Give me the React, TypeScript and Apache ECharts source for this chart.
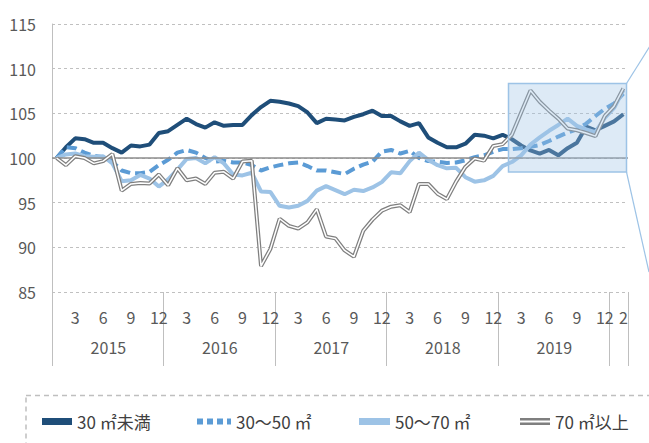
import React, { useEffect, useRef } from "react";
import * as echarts from "echarts";

// ---- data ----
const years = [2015, 2016, 2017, 2018, 2019, 2020];
const monthsPerYear = [12, 12, 12, 12, 12, 2];
const categories: string[] = [];
years.forEach((y, yi) => {
  for (let m = 1; m <= monthsPerYear[yi]; m++) categories.push(`${y}-${m}`);
});
const monthTickLabels = [3, 6, 9, 12];
const yearLabelMonth = 7;

const under30 = [
  100.0, 101.2, 102.2, 102.1, 101.7, 101.7, 101.1, 100.6, 101.4, 101.3, 101.5, 102.8,
  103.0, 103.7, 104.4, 103.8, 103.4, 104.0, 103.6, 103.7, 103.7, 104.8, 105.7, 106.4,
  106.3, 106.1, 105.8, 105.1, 103.9, 104.4, 104.3, 104.2, 104.6, 104.9, 105.3, 104.7,
  104.7, 104.1, 103.6, 103.9, 102.3, 101.7, 101.2, 101.2, 101.6, 102.6, 102.5, 102.2,
  102.6, 102.1, 101.4, 100.85, 100.5, 100.9, 100.3, 101.1, 101.7, 103.5, 103.1, 103.6,
  104.1, 104.9,
];
const from30to50 = [
  100.0, 101.2, 101.1, 100.6, 100.25, 100.1, 99.6, 98.6, 98.3, 98.3, 98.45, 99.2,
  99.8, 100.6, 100.9, 100.6, 100.0, 99.6, 99.7, 99.5, 99.5, 99.2, 98.6, 98.95,
  99.2, 99.4, 99.5, 99.1, 98.6, 98.6, 98.4, 98.2, 98.8, 99.25, 99.6, 100.7,
  100.9, 100.5, 100.8, 100.0, 99.65, 99.6, 99.45, 99.5, 99.75, 100.1, 100.3, 100.7,
  101.0, 101.0, 101.1, 101.25, 101.45, 101.9, 102.4, 102.85, 103.2, 103.85, 104.7, 105.5,
  106.1, 107.2,
];
const from50to70 = [
  100.0, 100.4, 100.5, 100.2, 100.15, 100.2, 99.4, 97.4, 97.5, 98.1, 97.7, 96.8,
  97.6, 98.7, 99.9, 100.0, 99.4, 100.1, 99.4, 98.15, 98.05, 98.35, 96.25, 96.2,
  94.65, 94.45, 94.65, 95.2, 96.35, 96.85, 96.4, 95.95, 96.45, 96.3, 96.7, 97.3,
  98.4, 98.3, 99.65, 100.6, 99.8, 99.2, 98.85, 98.9, 97.85, 97.35, 97.5, 98.0,
  99.1, 99.55, 100.3, 101.5, 102.3, 103.05, 103.7, 104.4, 103.6, 103.2, 102.9, 104.5,
  105.6, 107.6,
];
const over70 = [
  100.0, 99.2, 100.2, 100.0, 99.4, 99.65, 100.45, 96.35, 97.1, 97.2, 97.15, 98.15,
  96.95, 98.85, 97.5, 97.7, 97.1, 98.35, 98.45, 97.7, 99.6, 99.7, 87.9, 89.8,
  93.2, 92.4, 92.1, 92.8, 94.25, 91.2, 91.0, 89.65, 88.95, 91.85, 93.1, 94.1,
  94.55, 94.7, 93.95, 97.1, 97.1, 96.0, 95.4, 97.35, 99.0, 99.95, 99.7, 101.35,
  101.55, 102.6, 105.1, 107.55, 106.3, 105.3, 104.4, 103.3, 103.1, 102.8, 102.45, 104.7,
  105.8, 107.8,
];
const seriesNames = ["30 ㎡未満", "30～50 ㎡", "50～70 ㎡", "70 ㎡以上"];
const yMin = 85;
const yMax = 115;
const yStep = 5;
const baseLine = 100;

const FONT = "'Noto Sans CJK JP', 'Noto Sans', sans-serif";
const monthOf = (c: string) => Number(c.split("-")[1]);
const yearOf = (c: string) => c.split("-")[0];

export default function App() {
  const ref = useRef<HTMLDivElement>(null);
  useEffect(() => {
    if (!ref.current) return;
    const chart = echarts.init(ref.current, undefined, { renderer: "svg" });
    const legendDefs = [
      { name: seriesNames[0], left: 42, icon: "rect", w: 30, h: 7 },
      {
        name: seriesNames[1],
        left: 197,
        icon: "path://M0,0h6v6h-6z M10,0h6v6h-6z M20,0h6v6h-6z M30,0h4v6h-4z",
        w: 34,
        h: 6,
      },
      { name: seriesNames[2], left: 359, icon: "rect", w: 31, h: 7 },
      { name: seriesNames[3], left: 520, icon: "path://M0,0h30v2.6h-30z M0,4.4h30v2.6h-30z", w: 30, h: 7 },
    ];
    const option: any = {
      animation: false,
      grid: { left: 52, right: 21, top: 24, bottom: 151, containLabel: false },
      xAxis: [
        {
          type: "category",
          data: categories,
          boundaryGap: true,
          position: "bottom",
          axisLine: { show: false },
          axisTick: {
            show: true,
            inside: false,
            length: 74,
            interval: (i: number) => monthOf(categories[i]) === 1,
            lineStyle: { color: "#bfbfbf", width: 1 },
          },
          axisLabel: {
            interval: (i: number) =>
              monthTickLabels.includes(monthOf(categories[i])) || i === categories.length - 1,
            formatter: (v: string) => String(monthOf(v)),
            color: "#595959",
            fontSize: 16,
            fontFamily: FONT,
            margin: 17,
          },
          splitLine: { show: false },
        },
        {
          type: "category",
          data: categories,
          boundaryGap: true,
          position: "bottom",
          axisLine: { show: false },
          axisTick: { show: false },
          axisLabel: {
            interval: (i: number) => monthOf(categories[i]) === yearLabelMonth,
            formatter: (v: string) => yearOf(v),
            color: "#595959",
            fontSize: 16,
            fontFamily: FONT,
            margin: 47,
            padding: [0, 8, 0, 0],
          },
          splitLine: { show: false },
        },
      ],
      yAxis: {
        type: "value",
        min: yMin,
        max: yMax,
        interval: yStep,
        axisLine: { show: true, lineStyle: { color: "#bfbfbf", width: 1 } },
        axisTick: { show: false },
        axisLabel: { color: "#595959", fontSize: 16, fontFamily: FONT, margin: 16 },
        splitLine: { show: true, lineStyle: { color: "#c0c0c0", type: [3, 3], width: 1 } },
      },
      legend: legendDefs.map((d) => ({
        data: [{ name: d.name, icon: d.icon }],
        left: d.left,
        top: 413,
        itemWidth: d.w,
        itemHeight: d.h,
        itemStyle: { borderWidth: 0 },
        textStyle: { color: "#404040", fontSize: 17, fontFamily: FONT },
        selectedMode: false,
        padding: 0,
      })),
      series: [
        {
          name: "base",
          type: "line",
          data: [],
          z: 1,
          silent: true,
          markLine: {
            silent: true,
            symbol: "none",
            label: { show: false },
            lineStyle: { color: "#8c8c8c", type: "solid", width: 1.5 },
            data: [{ yAxis: baseLine }],
          },
        },
        {
          name: seriesNames[0],
          type: "line",
          data: under30,
          showSymbol: false,
          symbol: "none",
          itemStyle: { color: "#1f4e79" },
          lineStyle: { color: "#1f4e79", width: 4 },
          z: 2,
        },
        {
          name: seriesNames[1],
          type: "line",
          data: from30to50,
          showSymbol: false,
          symbol: "none",
          itemStyle: { color: "#5b9bd5" },
          lineStyle: { color: "#5b9bd5", width: 4, type: [10, 5] },
          z: 3,
        },
        {
          name: seriesNames[2],
          type: "line",
          data: from50to70,
          showSymbol: false,
          symbol: "none",
          itemStyle: { color: "#9dc3e6" },
          lineStyle: { color: "#9dc3e6", width: 4 },
          z: 4,
        },
        {
          name: seriesNames[3],
          type: "line",
          data: over70,
          showSymbol: false,
          symbol: "none",
          itemStyle: { color: "#7f7f7f" },
          lineStyle: { color: "#7f7f7f", width: 4 },
          z: 5,
        },
        {
          name: "70inner",
          type: "line",
          data: over70,
          showSymbol: false,
          symbol: "none",
          silent: true,
          itemStyle: { color: "#ffffff" },
          lineStyle: { color: "#ffffff", width: 1.5 },
          z: 6,
        },
      ],
      graphic: [
        {
          type: "rect",
          z: 100,
          shape: { x: 508.5, y: 83.5, width: 118, height: 88.5 },
          style: { fill: "rgba(157,195,230,0.35)", stroke: "#9dc3e6", lineWidth: 1.5 },
        },
        {
          type: "line",
          z: 100,
          shape: { x1: 626.5, y1: 83.5, x2: 650, y2: 46 },
          style: { stroke: "#9dc3e6", lineWidth: 1.2 },
        },
        {
          type: "line",
          z: 100,
          shape: { x1: 626.5, y1: 172, x2: 649, y2: 272 },
          style: { stroke: "#9dc3e6", lineWidth: 1.2 },
        },
        {
          type: "rect",
          z: 100,
          shape: { x: 26, y: 395.5, width: 700, height: 100 },
          style: { fill: "none", stroke: "#bfbfbf", lineWidth: 1.5, lineDash: [5, 4] },
        },
      ],
    };
    chart.setOption(option);
    return () => chart.dispose();
  }, []);
  return (
    <div
      ref={ref}
      style={{ position: "fixed", left: 0, top: 0, width: 649, height: 443, background: "#ffffff" }}
    />
  );
}
